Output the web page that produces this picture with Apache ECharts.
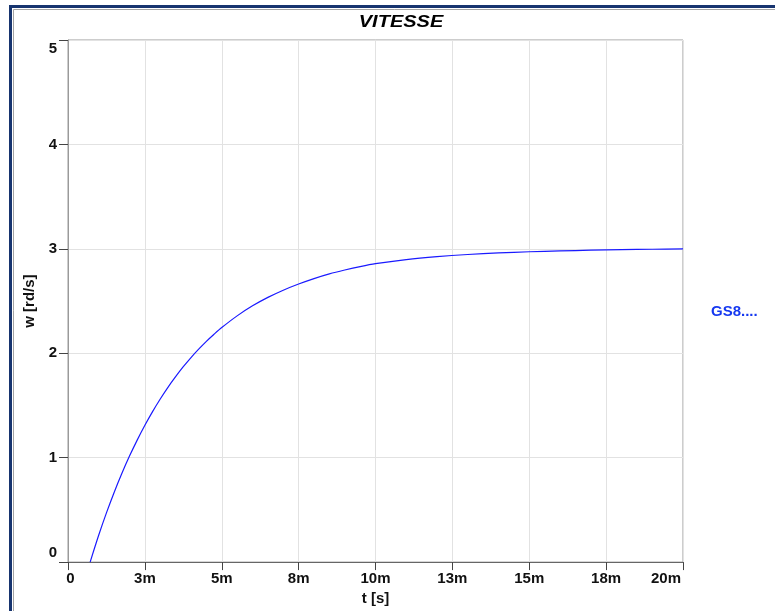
<!DOCTYPE html>
<html>
<head>
<meta charset="utf-8">
<script src="https://cdn.jsdelivr.net/npm/echarts@6/dist/echarts.min.js"></script>
<style>
  html, body { margin: 0; padding: 0; background: #ffffff; }
  #chart { width: 775px; height: 611px; }
</style>
</head>
<body>
<div id="chart"></div>
<script>
// Step response of the motor speed: time in milliseconds, speed in rad/s
const timeMs = [0.72, 1.0, 1.25, 1.5, 1.75, 2.0, 2.25, 2.5, 2.75, 3.0, 3.25, 3.5, 3.75, 4.0, 4.25, 4.5, 4.75,
                5.0, 5.5, 6.0, 6.5, 7.0, 7.5, 8.0, 8.5, 9.0, 9.5, 10, 11, 12, 13, 14, 15, 16, 17, 18, 19, 20];
const speed = [0.000, 0.259, 0.471, 0.667, 0.848, 1.015, 1.168, 1.310, 1.441, 1.562, 1.674, 1.776, 1.871, 1.959,
               2.039, 2.114, 2.182, 2.246, 2.358, 2.454, 2.535, 2.604, 2.663, 2.715, 2.760, 2.797, 2.830, 2.858,
               2.897, 2.925, 2.946, 2.961, 2.972, 2.980, 2.987, 2.992, 2.996, 3.000];
const xTickLabels = ['0', '3m', '5m', '8m', '10m', '13m', '15m', '18m', '20m'];
const yTickLabels = ['0', '1', '2', '3', '4', '5'];
const seriesName = 'GS8....';

const labelFont = { fontFamily: 'Liberation Sans', fontWeight: 'bold', fontSize: 15, color: '#111' };

const chart = echarts.init(document.getElementById('chart'));
chart.setOption({
  animation: false,
  backgroundColor: '#ffffff',
  graphic: [
    { type: 'rect', shape: { x: 10.5, y: 6.5, width: 900, height: 900 },
      style: { fill: 'none', stroke: '#17346f', lineWidth: 3 }, silent: true },
    { type: 'rect', shape: { x: 13.5, y: 9.5, width: 900, height: 900 },
      style: { fill: 'none', stroke: '#a4a4a4', lineWidth: 1 }, silent: true },
    { type: 'text', x: 401, y: 23, scaleX: 1.25, originX: 0, originY: 0,
      style: { text: 'VITESSE', fontFamily: 'Liberation Sans', fontWeight: 'bold', fontStyle: 'italic',
               fontSize: 16, fill: '#000', align: 'center', verticalAlign: 'middle' } }
  ],
  legend: {
    left: 706, top: 304, icon: 'none', itemWidth: 0, itemGap: 0, padding: 0,
    data: [seriesName],
    textStyle: { fontFamily: 'Liberation Sans', fontWeight: 'bold', fontSize: 15, color: '#1538f0', padding: 0 }
  },
  grid: { left: 68, top: 40, right: 92, bottom: 45, show: true, borderColor: '#9a9a9a', borderWidth: 1 },
  xAxis: {
    type: 'value', min: 0, max: 20, interval: 2.5,
    name: 't [s]', nameLocation: 'middle', nameGap: 26,
    nameTextStyle: labelFont,
    axisLine: { show: true, lineStyle: { color: '#666', width: 1 } },
    axisTick: { show: true, length: 8, lineStyle: { color: '#444' } },
    axisLabel: Object.assign({
      margin: 9,
      formatter: (v) => {
        const i = Math.round(v / 2.5);
        if (i === 0) return '{first|' + xTickLabels[i] + '}';
        if (i === xTickLabels.length - 1) return '{last|' + xTickLabels[i] + '}';
        return xTickLabels[i];
      },
      rich: {
        first: Object.assign({ padding: [0, 0, 0, 5] }, labelFont),
        last: Object.assign({ padding: [0, 34, 0, 0] }, labelFont)
      }
    }, labelFont),
    splitLine: { show: true, lineStyle: { color: '#e2e2e2' } }
  },
  yAxis: {
    type: 'value', min: 0, max: 5, interval: 1,
    name: 'w [rd/s]', nameLocation: 'middle', nameGap: 30,
    nameTextStyle: labelFont,
    axisLine: { show: true, lineStyle: { color: '#9a9a9a', width: 1 } },
    axisTick: { show: true, length: 9, lineStyle: { color: '#444' } },
    axisLabel: Object.assign({
      margin: 11,
      formatter: (v) => {
        const i = Math.round(v);
        if (i === yTickLabels.length - 1) return '{top|' + yTickLabels[i] + '}';
        if (i === 0) return '{bottom|' + yTickLabels[i] + '}';
        return yTickLabels[i];
      },
      rich: {
        top: Object.assign({ padding: [17, 0, 0, 0] }, labelFont),
        bottom: Object.assign({ padding: [0, 0, 19, 0] }, labelFont)
      }
    }, labelFont),
    splitLine: { show: true, lineStyle: { color: '#e2e2e2' } }
  },
  series: [{
    name: seriesName,
    type: 'line',
    data: timeMs.map((t, i) => [t, speed[i]]),
    smooth: 0.3,
    showSymbol: false,
    lineStyle: { color: '#1a1aff', width: 1.2 },
    itemStyle: { color: '#1a1aff' }
  }]
});
</script>
</body>
</html>
